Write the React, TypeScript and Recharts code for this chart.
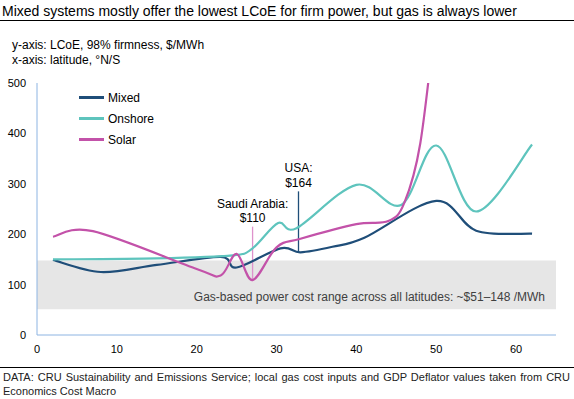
import { LineChart, Line, XAxis, YAxis, ReferenceArea, ReferenceLine } from 'recharts'

// latitude (°N/S) and LCoE ($/MWh)
const latMixed = [2, 8, 15, 23, 25, 30.5, 33, 37, 41, 50, 55, 62]
const costMixed = [149, 125, 139, 155, 134, 172, 164, 175, 193, 266, 207, 201]

const latOnshore = [2, 15, 24.5, 27, 30.2, 32.5, 40, 45.6, 50, 55, 62]
const costOnshore = [150, 152, 158, 172, 222, 212, 298, 258, 376, 245, 378]

const latSolar = [2, 7, 20, 23, 25, 27, 30, 33, 40, 44, 46, 48, 50]
const costSolar = [195, 206, 131, 118, 161, 109, 174, 191, 220, 226, 262, 380, 640]

const xTicks = [0, 10, 20, 30, 40, 50, 60]
const yTicks = [0, 100, 200, 300, 400, 500]

const gasLow = 51
const gasHigh = 148

const FONT = '"Liberation Sans", Arial, sans-serif'
const AXIS_COLOR = '#8DB4E2'

const toPoints = (lat: number[], cost: number[]) => lat.map((x, i) => ({ lat: x, cost: cost[i] }))

const series = [
  { name: 'Mixed', color: '#1F4E79', data: toPoints(latMixed, costMixed) },
  { name: 'Onshore', color: '#5EC4BD', data: toPoints(latOnshore, costOnshore) },
  { name: 'Solar', color: '#C352A9', data: toPoints(latSolar, costSolar) },
]

const callouts = [
  { lat: 27, value: 110, top: 215, lines: ['Saudi Arabia:', '$110'], color: '#DE92CC' },
  { lat: 32.75, value: 164, top: 285, lines: ['USA:', '$164'], color: '#1F4E79' },
]

// Excel-style smoothed line (cardinal spline, tension 0)
const excelSmooth = (context: any) => {
  let pts: [number, number][] = []
  return {
    areaStart() {},
    areaEnd() {},
    lineStart() {
      pts = []
    },
    lineEnd() {
      if (!pts.length) return
      context.moveTo(pts[0][0], pts[0][1])
      for (let i = 0; i < pts.length - 1; i++) {
        const p0 = pts[i - 1] || pts[i]
        const p1 = pts[i]
        const p2 = pts[i + 1]
        const p3 = pts[i + 2] || p2
        context.bezierCurveTo(
          p1[0] + (p2[0] - p0[0]) / 6,
          p1[1] + (p2[1] - p0[1]) / 6,
          p2[0] - (p3[0] - p1[0]) / 6,
          p2[1] - (p3[1] - p1[1]) / 6,
          p2[0],
          p2[1]
        )
      }
    },
    point(x: number, y: number) {
      pts.push([x, y])
    },
  }
}

const calloutLabel = (lines: string[]) => (props: any) => {
  const vb = props.viewBox
  if (!vb) return null
  const cx = vb.x + vb.width / 2
  return (
    <text textAnchor="middle" fontSize={12} fontFamily={FONT} fill="#000">
      <tspan x={cx} y={vb.y - 19}>{lines[0]}</tspan>
      <tspan x={cx} y={vb.y - 4.5}>{lines[1]}</tspan>
    </text>
  )
}

const bandLabel = (props: any) => {
  const vb = props.viewBox
  if (!vb) return null
  return (
    <text
      x={vb.x + vb.width - 11}
      y={vb.y + vb.height - 8}
      textAnchor="end"
      fontSize={12}
      fontFamily={FONT}
      fill="#404040"
    >
      Gas-based power cost range across all latitudes: ~$51–148 /MWh
    </text>
  )
}

export default function App() {
  return (
    <div style={{ position: 'absolute', left: 0, top: 0, width: 574, height: 399, background: '#fff', fontFamily: FONT }}>
      <div style={{ position: 'absolute', left: 2, top: 3, fontSize: 14, color: '#000', whiteSpace: 'nowrap' }}>
        Mixed systems mostly offer the lowest LCoE for firm power, but gas is always lower
      </div>
      <div style={{ position: 'absolute', left: 0, top: 20, width: 574, height: 1, background: '#000' }} />
      <div style={{ position: 'absolute', left: 12, top: 38, fontSize: 12, lineHeight: '15px', color: '#000' }}>
        <div>y-axis: LCoE, 98% firmness, $/MWh</div>
        <div>x-axis: latitude, °N/S</div>
      </div>

      <div style={{ position: 'absolute', left: 0, top: 0 }}>
        <LineChart width={574} height={365} margin={{ top: 83, right: 18, bottom: 5, left: 7 }}>
          <ReferenceArea x1={0} x2={65} y1={gasLow} y2={gasHigh} fill="#E6E6E6" fillOpacity={1} stroke="none" label={bandLabel} />
          <XAxis
            dataKey="lat"
            type="number"
            domain={[0, 65]}
            ticks={xTicks}
            allowDuplicatedCategory={false}
            stroke={AXIS_COLOR}
            tickLine={false}
            tickSize={0}
            tickMargin={10}
            height={25}
            tick={{ fill: '#000', fontSize: 11, fontFamily: FONT }}
          />
          <YAxis
            type="number"
            domain={[0, 500]}
            ticks={yTicks}
            allowDataOverflow
            stroke={AXIS_COLOR}
            tickLine={false}
            tickSize={0}
            tickMargin={11}
            width={30}
            tick={{ fill: '#000', fontSize: 11, fontFamily: FONT }}
          />
          {callouts.map((c) => (
            <ReferenceLine
              key={c.lines[0]}
              segment={[
                { x: c.lat, y: c.value },
                { x: c.lat, y: c.top },
              ]}
              stroke={c.color}
              strokeWidth={1.3}
              label={calloutLabel(c.lines)}
            />
          ))}
          {series.map((s) => (
            <Line
              key={s.name}
              data={s.data}
              dataKey="cost"
              name={s.name}
              type={excelSmooth as any}
              stroke={s.color}
              strokeWidth={2.2}
              dot={false}
              activeDot={false}
              isAnimationActive={false}
            />
          ))}
        </LineChart>
      </div>

      <div style={{ position: 'absolute', left: 79, top: 87, fontSize: 12, color: '#000' }}>
        {series.map((s) => (
          <div key={s.name} style={{ display: 'flex', alignItems: 'center', height: 21 }}>
            <div style={{ width: 25, height: 2.5, background: s.color, marginRight: 4 }} />
            <span>{s.name}</span>
          </div>
        ))}
      </div>

      <div style={{ position: 'absolute', left: 0, top: 367, width: 574, height: 1, background: '#000' }} />
      <div
        style={{
          position: 'absolute',
          left: 3,
          top: 370,
          width: 567,
          fontSize: 11,
          lineHeight: '14px',
          color: '#222',
          textAlign: 'justify',
        }}
      >
        DATA: CRU Sustainability and Emissions Service; local gas cost inputs and GDP Deflator values taken from CRU Economics Cost Macro
      </div>
    </div>
  )
}
